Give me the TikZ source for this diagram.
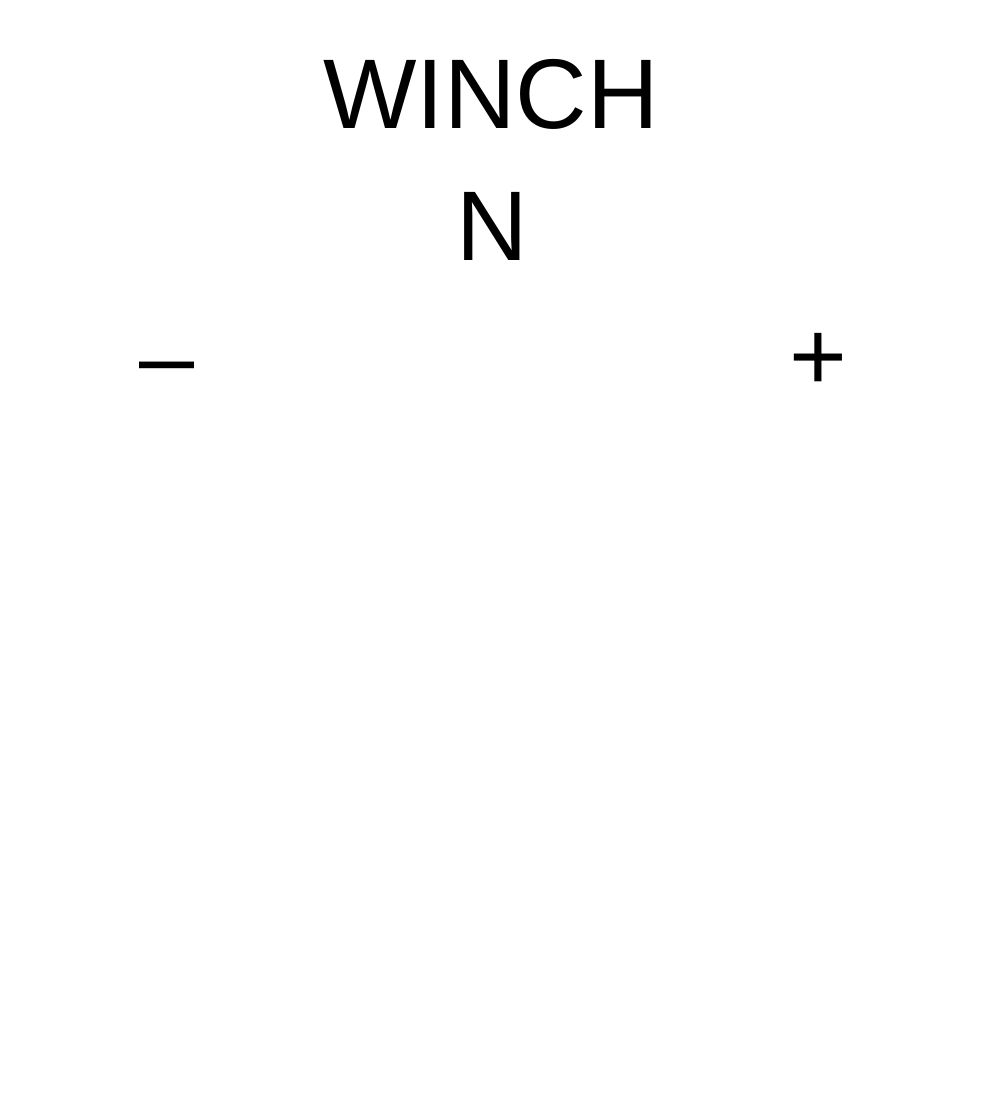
\documentclass[tikz,border=0pt]{standalone}
\usepackage{fontspec}
\setmainfont{Liberation Sans}
\usetikzlibrary{positioning}
\tikzset{
  label/.style={inner sep=0pt,anchor=base,font=\fontsize{99}{118}\selectfont},
  termlabel/.style={label}
}

\begin{document}
\begin{tikzpicture}[x=1pt,y=-1pt]
  \useasboundingbox[fill=white] (0,0) rectangle (984,1102);
  \node[label] (winch) at (491,129) {WINCH};
  \node[label] (nlabel) at (492.5,260) {N};
  \node[termlabel] (minus) at (167,390) {–};
  \node[termlabel] (plus) at (818,390) {+};
\end{tikzpicture}
\end{document}
